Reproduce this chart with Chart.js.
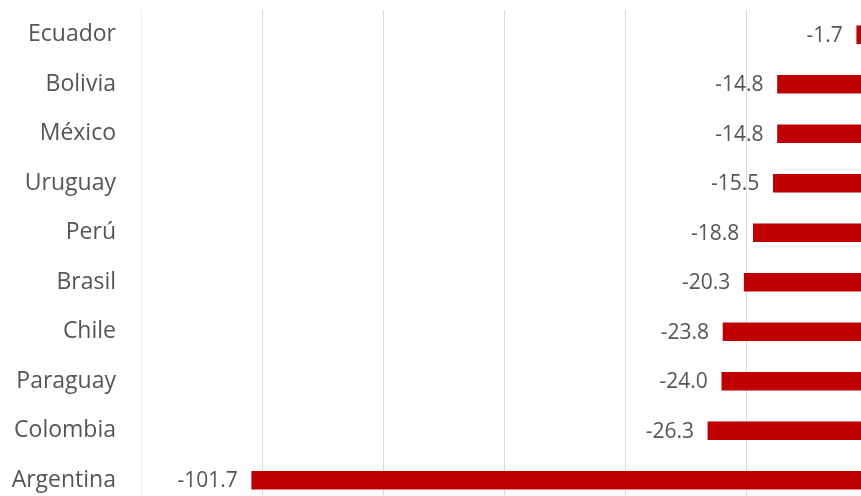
<!DOCTYPE html>
<html>
<head>
<meta charset="utf-8">
<script src="https://cdn.jsdelivr.net/npm/chart.js@4/dist/chart.umd.min.js"></script>
<style>
  html, body { margin: 0; padding: 0; background: #ffffff; overflow: hidden; }
  #clip { width: 861px; height: 496px; overflow: hidden; position: relative; }
  #wrap { width: 861px; height: 505px; position: absolute; left: 0; top: 0; }
</style>
</head>
<body>
<div id="clip"><div id="wrap"><canvas id="c"></canvas></div></div>
<script>
const categories = ["Ecuador", "Bolivia", "México", "Uruguay", "Perú", "Brasil", "Chile", "Paraguay", "Colombia", "Argentina"];
const values = [-1.7, -14.8, -14.8, -15.5, -18.8, -20.3, -23.8, -24.0, -26.3, -101.7];
const gridTicks = [-120, -100, -80, -60, -40, -20];

const FONT = "'Open Sans', sans-serif";

const valueLabels = {
  id: 'valueLabels',
  afterDatasetsDraw(chart) {
    const ctx = chart.ctx;
    const meta = chart.getDatasetMeta(0);
    ctx.save();
    ctx.font = "21px " + FONT;
    ctx.fillStyle = "#555555";
    ctx.textAlign = "right";
    ctx.textBaseline = "middle";
    meta.data.forEach((bar, i) => {
      ctx.fillText(values[i].toFixed(1), bar.x - 14, bar.y + 1);
    });
    ctx.restore();
  }
};

new Chart(document.getElementById('c'), {
  type: 'bar',
  data: {
    labels: categories,
    datasets: [{
      data: values,
      backgroundColor: '#c00000',
      borderWidth: 0,
      barThickness: 18
    }]
  },
  options: {
    indexAxis: 'y',
    responsive: true,
    maintainAspectRatio: false,
    animation: false,
    layout: { padding: { top: 10, right: 0, bottom: 0, left: 0 } },
    plugins: { legend: { display: false }, tooltip: { enabled: false } },
    scales: {
      x: {
        min: -120,
        max: -1,
        afterBuildTicks(axis) { axis.ticks = gridTicks.map(v => ({ value: v })); },
        afterFit(axis) { axis.height = 0; axis.paddingLeft = 0; axis.paddingRight = 0; },
        ticks: { display: false },
        border: { display: false },
        grid: {
          drawTicks: false,
          lineWidth: 1,
          color: (c) => (c.tick && c.tick.value === -120) ? '#eeeeee' : '#d9d9d9'
        }
      },
      y: {
        afterFit(axis) { axis.width = 141; axis.paddingTop = 0; axis.paddingBottom = 0; },
        grid: { display: false },
        border: { display: false },
        ticks: {
          padding: 17,
          color: '#555555',
          font: { family: FONT, size: 23 }
        }
      }
    }
  },
  plugins: [valueLabels]
});
</script>
</body>
</html>
